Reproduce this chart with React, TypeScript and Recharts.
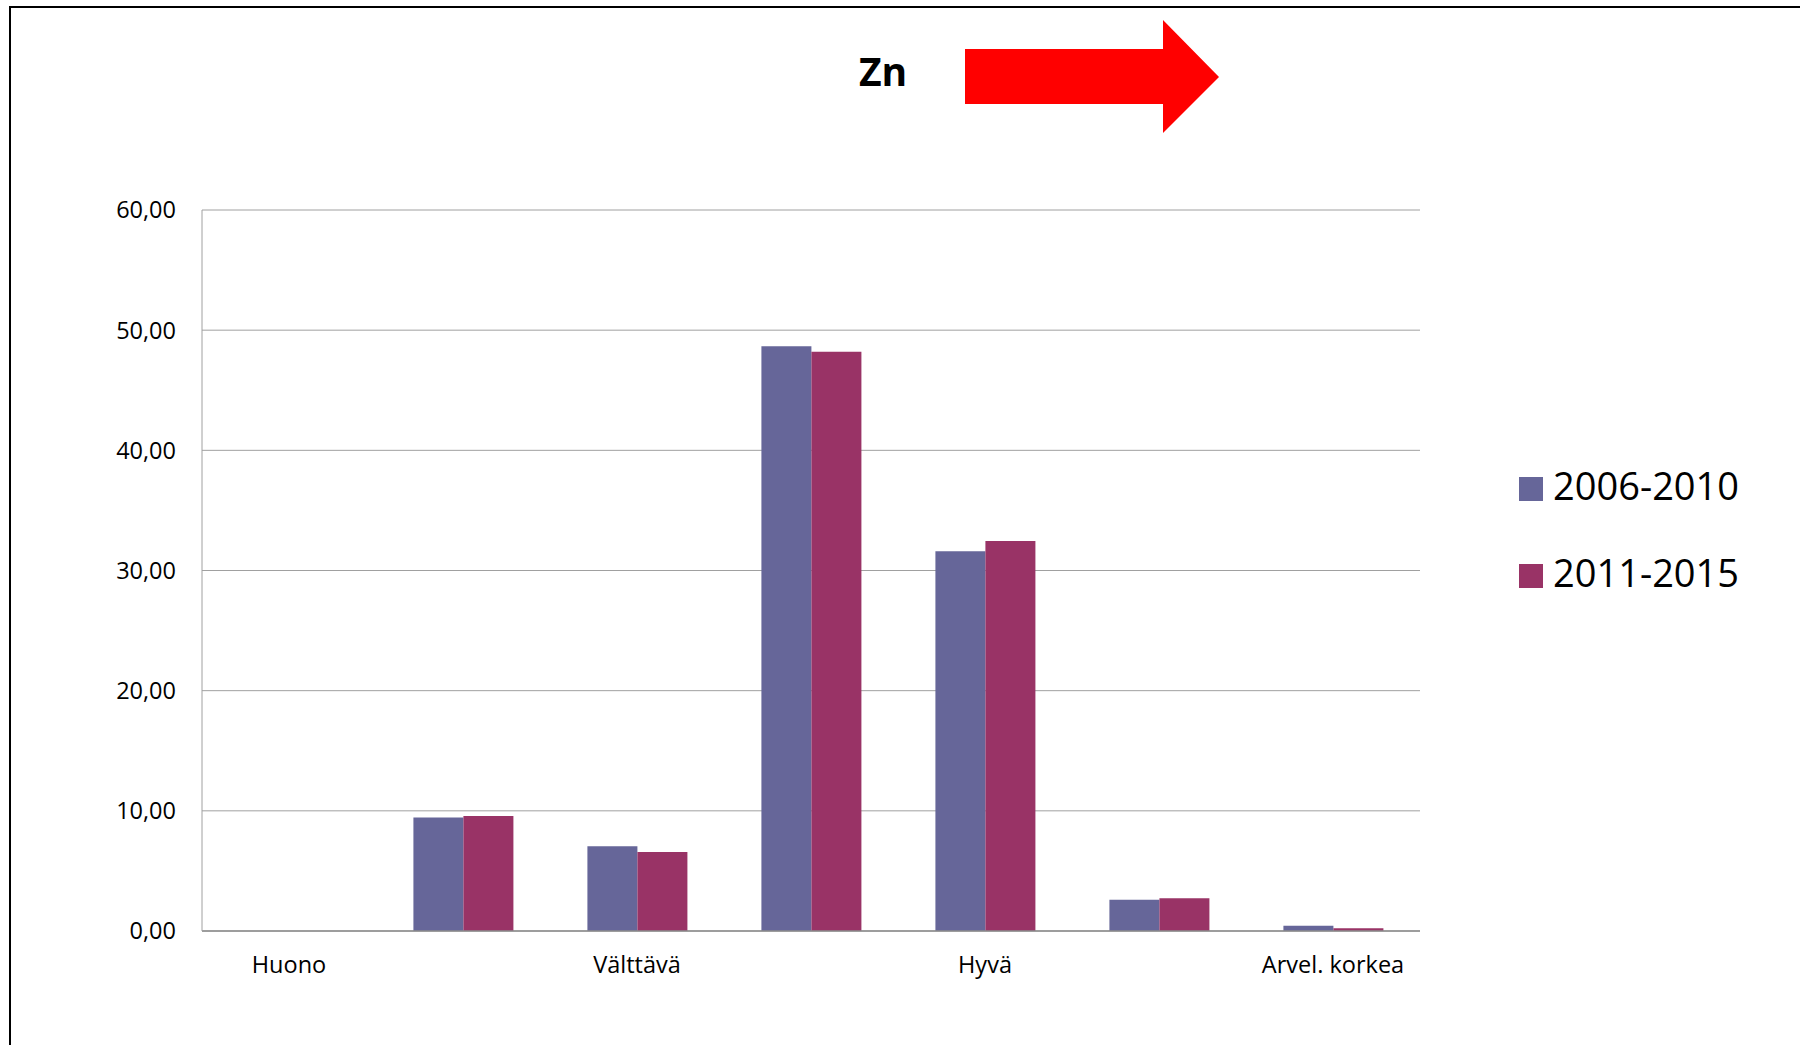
import React from 'react';
import { BarChart, Bar, XAxis, YAxis, CartesianGrid } from 'recharts';

const categories = ['Huono', 'Huononlainen', 'Välttävä', 'Tyydyttävä', 'Hyvä', 'Korkea', 'Arvel. korkea'];
const series2006 = [0, 9.45, 7.06, 48.67, 31.6, 2.6, 0.44];
const series2011 = [0, 9.56, 6.58, 48.2, 32.45, 2.72, 0.22];
const yTicks = [0, 10, 20, 30, 40, 50, 60];
const seriesNames = ['2006-2010', '2011-2015'];
const seriesColors = ['#666699', '#993366'];
const titleText = 'Zn';

const data = categories.map((c, i) => ({ name: c, s1: series2006[i], s2: series2011[i] }));

const fmt = (v: number) => v.toFixed(2).replace('.', ',');

export default function App() {
  return (
    <div style={{ position: 'fixed', left: 0, top: 0, width: 1800, height: 1045, overflow: 'hidden', background: '#fff' }}>
      <div style={{ position: 'absolute', left: 9, top: 6, width: 2000, height: 1200, borderTop: '2px solid #000', borderLeft: '2px solid #000' }} />
      <div style={{ position: 'absolute', left: 0, top: 0 }}>
        <BarChart
          width={1800}
          height={1045}
          data={data}
          margin={{ top: 210, right: 380, bottom: 54, left: 102 }}
          barCategoryGap="21.5%"
          barGap={0}
        >
          <CartesianGrid horizontal vertical={false} stroke="#a0a0a0" />
          <XAxis
            dataKey="name"
            height={60}
            interval={1}
            tickLine={false}
            tickSize={0}
            tickMargin={25}
            axisLine={{ stroke: '#8c8c8c', strokeWidth: 1.5 }}
            tick={{ fontFamily: 'Open Sans', fontSize: 23.5, fill: '#000' }}
          />
          <YAxis
            width={100}
            domain={[0, 60]}
            ticks={yTicks}
            tickFormatter={fmt}
            tickLine={false}
            tickSize={0}
            tickMargin={26}
            axisLine={{ stroke: '#a0a0a0' }}
            tick={{ fontFamily: 'Open Sans', fontSize: 23.5, fill: '#000' }}
          />
          <Bar dataKey="s1" name={seriesNames[0]} fill={seriesColors[0]} isAnimationActive={false} />
          <Bar dataKey="s2" name={seriesNames[1]} fill={seriesColors[1]} isAnimationActive={false} />
        </BarChart>
      </div>
      <svg style={{ position: 'absolute', left: 0, top: 0 }} width={1800} height={1045}>
        <text x={859} y={86} fontFamily="Open Sans" fontWeight={700} fontSize={39} fill="#000">{titleText}</text>
        <polygon points="965,49 1163,49 1163,20 1219,77 1163,133 1163,104 965,104" fill="#ff0000" />
        {seriesNames.map((n, i) => (
          <g key={n}>
            <rect x={1519} y={477 + i * 87} width={24} height={24} fill={seriesColors[i]} />
            <text x={1553} y={500 + i * 87} fontFamily="Open Sans" fontSize={38} fill="#000">{n}</text>
          </g>
        ))}
      </svg>
    </div>
  );
}
